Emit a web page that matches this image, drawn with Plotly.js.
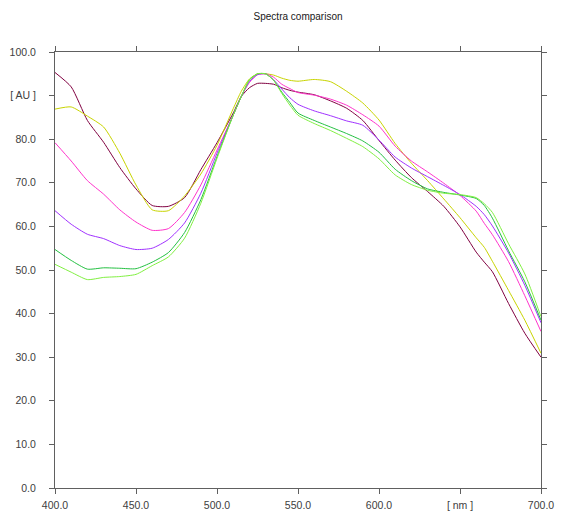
<!DOCTYPE html>
<html>
<head>
<meta charset="utf-8">
<script src="https://cdn.plot.ly/plotly-3.0.1.min.js"></script>
<style>html,body{margin:0;padding:0;background:#fff;}#chart{width:581px;height:511px;}</style>
</head>
<body>
<div id="chart"></div>
<script>
// Wavelength grid [nm]
const wavelength = [400,410,420,430,440,450,460,470,480,490,500,510,515,520,525,530,535,540,545,550,560,570,580,590,600,610,620,630,640,650,660,665,670,680,690,700];

// Series values [AU]
const seriesMaroon = [95.3,92.0,84.3,79.3,73.5,68.6,64.8,64.6,66.6,73.0,79.2,86.0,89.8,91.8,92.8,92.8,92.6,91.8,91.2,90.8,90.2,88.8,87.1,84.3,79.7,75.2,71.2,68.0,64.6,59.9,54.1,51.8,49.6,42.3,35.5,30.0];
const seriesYellow = [86.9,87.4,85.3,82.8,76.8,69.5,63.8,63.6,67.0,72.0,78.6,87.0,91.0,93.8,95.0,95.0,94.7,94.0,93.5,93.3,93.7,93.2,91.0,88.3,84.4,79.0,74.5,70.5,66.3,62.0,57.4,55.2,52.0,45.3,38.5,30.9];
const seriesPink   = [79.2,75.0,70.5,67.4,63.8,61.0,59.1,59.5,63.2,69.5,77.5,85.5,89.8,93.0,94.8,95.0,94.2,92.6,91.6,90.7,90.1,89.2,87.8,85.6,83.0,78.4,75.0,72.5,69.9,67.1,63.5,60.7,58.1,51.9,44.1,35.9];
const seriesPurple = [63.6,60.5,58.2,57.2,55.6,54.7,55.0,57.0,60.8,67.6,76.8,85.5,89.8,93.2,94.8,95.0,93.6,91.5,89.5,88.0,86.5,85.4,84.2,83.2,79.8,75.9,73.4,71.4,69.4,67.3,64.6,62.7,60.1,53.9,46.5,37.9];
const seriesGreen  = [54.7,52.2,50.2,50.5,50.4,50.3,51.8,54.0,58.6,66.1,76.0,85.5,89.8,93.6,95.0,95.0,93.5,90.8,88.4,86.0,84.3,82.8,81.3,79.6,77.0,73.1,70.5,68.6,67.8,67.2,66.4,64.8,61.9,54.4,47.3,38.5];
const seriesLime   = [51.3,49.5,47.8,48.3,48.5,49.0,51.0,53.0,57.3,65.3,75.6,85.5,89.8,93.6,95.0,95.0,93.5,90.5,87.8,85.5,83.6,82.0,80.2,78.3,75.5,71.8,69.6,68.3,67.6,67.3,66.6,65.2,63.2,56.0,49.1,39.3];

// Tick labels
const xTickVals = [400,450,500,550,600,650,700];
const xTickText = ['400.0','450.0','500.0','550.0','600.0','[ nm ]','700.0'];
const yTickVals = [0,10,20,30,40,50,60,70,80,90,100];
const yTickText = ['0.0','10.0','20.0','30.0','40.0','50.0','60.0','70.0','80.0','[ AU ]','100.0'];

const series = [
  {y: seriesMaroon, color: '#800040'},
  {y: seriesYellow, color: '#c8d400'},
  {y: seriesPink,   color: '#ff33cc'},
  {y: seriesPurple, color: '#a030ff'},
  {y: seriesGreen,  color: '#22c040'},
  {y: seriesLime,   color: '#80f040'}
];

const traces = series.map(s => ({
  type: 'scatter', mode: 'lines', x: wavelength, y: s.y,
  line: {color: s.color, width: 1, shape: 'spline', smoothing: 0.6},
  hoverinfo: 'skip', showlegend: false
}));

const fnt = {family: 'Liberation Sans, Arial, sans-serif', size: 10.5, color: '#404040'};
const axisCommon = {
  showgrid: false, zeroline: false, showline: true, linecolor: '#606060', linewidth: 1,
  ticks: 'outside', ticklen: 5, tickcolor: '#606060', tickfont: fnt
};

const layout = {
  width: 581, height: 511,
  margin: {l: 55, r: 40, t: 52, b: 23, pad: 0},
  paper_bgcolor: '#ffffff', plot_bgcolor: '#ffffff',
  title: {text: 'Spectra comparison', x: 0.513, xanchor: 'center', y: 0.967, yanchor: 'middle',
          font: {family: 'Liberation Sans, Arial, sans-serif', size: 10, color: '#202020'}},
  xaxis: Object.assign({}, axisCommon, {range: [400, 700], tickvals: xTickVals, ticktext: xTickText, mirror: 'ticks', ticklabelstandoff: 2}),
  yaxis: Object.assign({}, axisCommon, {range: [0, 100], tickvals: yTickVals, ticktext: yTickText, mirror: 'ticks', ticklabelstandoff: 11}),
  yaxis2: Object.assign({}, axisCommon, {range: [0, 100], tickvals: yTickVals, ticktext: yTickText, overlaying: 'y', side: 'right', ticklabelposition: 'outside', ticklabelstandoff: 10}),
  showlegend: false
};

Plotly.newPlot('chart', traces, layout, {staticPlot: true, displayModeBar: false});
</script>
</body>
</html>
